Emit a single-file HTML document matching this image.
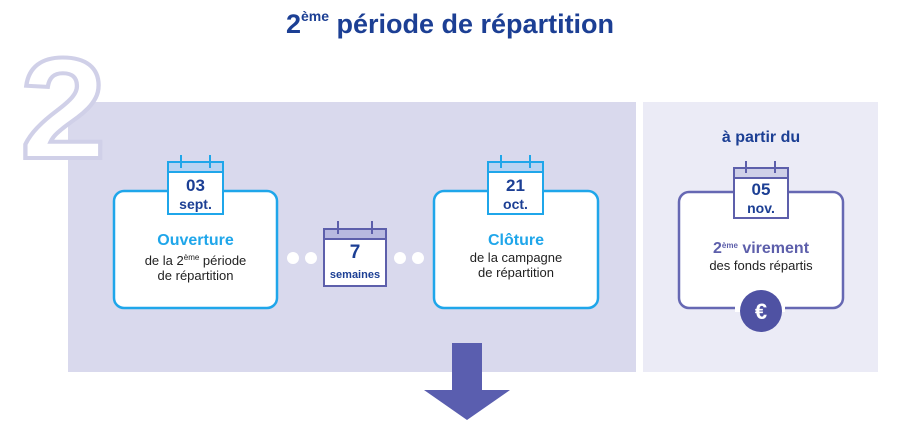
<!DOCTYPE html><html><head><style>
body{margin:0;width:900px;height:432px;background:#fff;font-family:"Liberation Sans",sans-serif;position:relative;overflow:hidden}
.a{position:absolute}
.t{text-align:center;color:#222;font-size:13px;line-height:15px}
sup{font-size:8px;vertical-align:5px}
</style></head><body>
<div class="a" style="left:0;top:8px;width:900px;text-align:center;font-weight:bold;font-size:27px;color:#1c3f94">2<sup style="font-size:14px;vertical-align:12px">ème</sup> période de répartition</div>
<div class="a" style="left:68px;top:102px;width:568px;height:270px;background:#d9d9ed"></div>
<div class="a" style="left:643px;top:102px;width:235px;height:270px;background:#ebebf6"></div>
<svg class="a" style="left:0;top:0" width="900" height="432">
<text x="0" y="0" transform="translate(20,158) scale(1.08,1)" font-family="Liberation Sans" font-weight="bold" font-size="144" fill="#fff" stroke="#d0d0e8" stroke-width="4">2</text>
<g fill="#fff">
<rect x="636" y="104" width="7" height="7"/><rect x="636" y="124" width="7" height="7"/><rect x="636" y="144" width="7" height="7"/><rect x="636" y="164" width="7" height="7"/><rect x="636" y="184" width="7" height="7"/><rect x="636" y="204" width="7" height="7"/><rect x="636" y="224" width="7" height="7"/><rect x="636" y="244" width="7" height="7"/><rect x="636" y="264" width="7" height="7"/><rect x="636" y="284" width="7" height="7"/><rect x="636" y="304" width="7" height="7"/><rect x="636" y="324" width="7" height="7"/><rect x="636" y="344" width="7" height="7"/><rect x="636" y="364" width="7" height="7"/>
</g>
<g stroke-width="2.5" fill="#fff">
<rect x="114" y="191" width="163" height="117" rx="10" stroke="#1fa6ea"/>
<rect x="434" y="191" width="164" height="117" rx="10" stroke="#1fa6ea"/>
<rect x="679" y="192" width="164" height="116" rx="10" stroke="#6668b3"/>
</g>
<g fill="#fff">
<circle cx="293" cy="258" r="6"/><circle cx="311" cy="258" r="6"/><circle cx="400" cy="258" r="6"/><circle cx="418" cy="258" r="6"/>
<rect x="735" y="302" width="50" height="10" fill="#fff"/>
</g>
<g stroke="#1fa6ea" stroke-width="2">
<rect x="168" y="162" width="55" height="52" fill="#fff"/><rect x="168" y="162" width="55" height="10" fill="#b8d3f2"/>
<line x1="181" y1="155" x2="181" y2="168"/><line x1="210" y1="155" x2="210" y2="168"/>
<rect x="488" y="162" width="55" height="52" fill="#fff"/><rect x="488" y="162" width="55" height="10" fill="#b8d3f2"/>
<line x1="501" y1="155" x2="501" y2="168"/><line x1="530" y1="155" x2="530" y2="168"/>
</g>
<g stroke="#5d5fab" stroke-width="2">
<rect x="324" y="229" width="62" height="57" fill="#fff"/><rect x="324" y="229" width="62" height="10" fill="#b8b9e0"/>
<line x1="338" y1="221" x2="338" y2="234"/><line x1="372" y1="221" x2="372" y2="234"/>
<rect x="734" y="168" width="54" height="50" fill="#fff"/><rect x="734" y="168" width="54" height="10" fill="#cfd0e8"/>
<line x1="746" y1="161" x2="746" y2="173"/><line x1="775" y1="161" x2="775" y2="173"/>
</g>
<circle cx="761" cy="311" r="21" fill="#4f52a3"/>
<text x="761" y="319" text-anchor="middle" font-family="Liberation Sans" font-weight="bold" font-size="22" fill="#fff">€</text>
<polygon points="452,343 482,343 482,390 510,390 467,420 424,390 452,390" fill="#5a5eaf"/>
</svg>
<div class="a t" style="left:168px;top:177px;width:55px;color:#1c3f94;font-weight:bold;font-size:17px;line-height:18px">03<br><span style="font-size:14px">sept.</span></div>
<div class="a t" style="left:488px;top:177px;width:55px;color:#1c3f94;font-weight:bold;font-size:17px;line-height:18px">21<br><span style="font-size:14px">oct.</span></div>
<div class="a t" style="left:324px;top:243px;width:62px;color:#1c3f94;font-weight:bold;font-size:19px;line-height:20px">7<br><span style="font-size:11px">semaines</span></div>
<div class="a t" style="left:734px;top:181px;width:54px;color:#1c3f94;font-weight:bold;font-size:17px;line-height:18px">05<br><span style="font-size:14px">nov.</span></div>
<div class="a t" style="left:114px;top:232px;width:163px"><b style="color:#1fa6ea;font-size:16px;line-height:18px">Ouverture</b><br>de la 2<sup>ème</sup> période<br>de répartition</div>
<div class="a t" style="left:434px;top:232px;width:164px"><b style="color:#1fa6ea;font-size:16px;line-height:18px">Clôture</b><br>de la campagne<br>de répartition</div>
<div class="a t" style="left:679px;top:237px;width:164px"><b style="color:#5d5fab;font-size:16px;line-height:18px">2<sup>ème</sup> virement</b><br>des fonds répartis</div>
<div class="a t" style="left:679px;top:130px;width:164px;color:#1c3f94;font-weight:bold;font-size:16px">à partir du</div>
</body></html>
